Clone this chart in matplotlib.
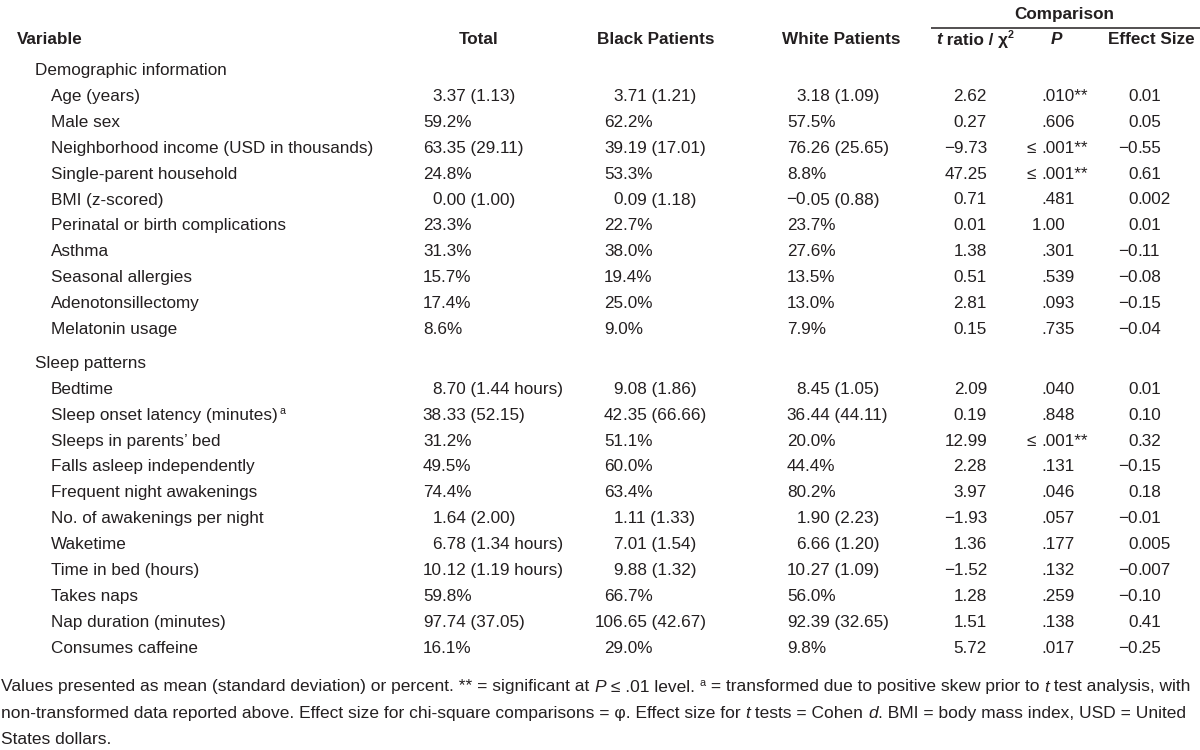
"""Table of patient characteristics (Black vs White patients) drawn as text."""

import matplotlib

matplotlib.use("Agg")
import matplotlib.pyplot as plt
from matplotlib import font_manager

NAMES = {f.name for f in font_manager.fontManager.ttflist}
FAMILY = "Liberation Sans Narrow" if "Liberation Sans Narrow" in NAMES else "Liberation Sans"
FS = 14.7 if FAMILY == "Liberation Sans Narrow" else 12.3
FS_NOTE = FS * 1.02
INK = "#231f20"

# ---- data -------------------------------------------------------------
demo_vars = [
    "Age (years)", "Male sex", "Neighborhood income (USD in thousands)",
    "Single-parent household", "BMI (z-scored)", "Perinatal or birth complications",
    "Asthma", "Seasonal allergies", "Adenotonsillectomy", "Melatonin usage",
]
demo_total = ["3.37 (1.13)", "59.2%", "63.35 (29.11)", "24.8%", "0.00 (1.00)",
              "23.3%", "31.3%", "15.7%", "17.4%", "8.6%"]
demo_black = ["3.71 (1.21)", "62.2%", "39.19 (17.01)", "53.3%", "0.09 (1.18)",
              "22.7%", "38.0%", "19.4%", "25.0%", "9.0%"]
demo_white = ["3.18 (1.09)", "57.5%", "76.26 (25.65)", "8.8%", "\u22120.05 (0.88)",
              "23.7%", "27.6%", "13.5%", "13.0%", "7.9%"]
demo_t = ["2.62", "0.27", "\u22129.73", "47.25", "0.71", "0.01", "1.38", "0.51", "2.81", "0.15"]
demo_p = [".010**", ".606", "\u2264 .001**", "\u2264 .001**", ".481", "1.00", ".301", ".539", ".093", ".735"]
demo_es = ["0.01", "0.05", "\u22120.55", "0.61", "0.002", "0.01", "\u22120.11", "\u22120.08",
           "\u22120.15", "\u22120.04"]

sleep_vars = [
    "Bedtime", "Sleep onset latency (minutes)", "Sleeps in parents\u2019 bed",
    "Falls asleep independently", "Frequent night awakenings", "No. of awakenings per night",
    "Waketime", "Time in bed (hours)", "Takes naps", "Nap duration (minutes)", "Consumes caffeine",
]
sleep_total = ["8.70 (1.44 hours)", "38.33 (52.15)", "31.2%", "49.5%", "74.4%", "1.64 (2.00)",
               "6.78 (1.34 hours)", "10.12 (1.19 hours)", "59.8%", "97.74 (37.05)", "16.1%"]
sleep_black = ["9.08 (1.86)", "42.35 (66.66)", "51.1%", "60.0%", "63.4%", "1.11 (1.33)",
               "7.01 (1.54)", "9.88 (1.32)", "66.7%", "106.65 (42.67)", "29.0%"]
sleep_white = ["8.45 (1.05)", "36.44 (44.11)", "20.0%", "44.4%", "80.2%", "1.90 (2.23)",
               "6.66 (1.20)", "10.27 (1.09)", "56.0%", "92.39 (32.65)", "9.8%"]
sleep_t = ["2.09", "0.19", "12.99", "2.28", "3.97", "\u22121.93", "1.36", "\u22121.52", "1.28", "1.51", "5.72"]
sleep_p = [".040", ".848", "\u2264 .001**", ".131", ".046", ".057", ".177", ".132", ".259", ".138", ".017"]
sleep_es = ["0.01", "0.10", "0.32", "\u22120.15", "0.18", "\u22120.01", "0.005", "\u22120.007",
            "\u22120.10", "0.41", "\u22120.25"]
sleep_sup = {1: "a"}

sections = [
    ("Demographic information", demo_vars, demo_total, demo_black, demo_white, demo_t, demo_p, demo_es, {}),
    ("Sleep patterns", sleep_vars, sleep_total, sleep_black, sleep_white, sleep_t, sleep_p, sleep_es, sleep_sup),
]

footnote = [
    [("Values presented as mean (standard deviation) or percent. ** = significant at ", {}),
     ("P", {"style": "italic"}), (" \u2264 .01 level. ", {}), ("a", {"sup": True}),
     (" = transformed due to positive skew prior to ", {}), ("t", {"style": "italic"}),
     (" test analysis, with", {})],
    [("non-transformed data reported above. Effect size for chi-square comparisons = \u03c6. "
      "Effect size for ", {}), ("t", {"style": "italic"}), (" tests = Cohen ", {}),
     ("d", {"style": "italic"}), (". BMI = body mass index, USD = United", {})],
    [("States dollars.", {})],
]

# ---- layout -----------------------------------------------------------
X_SECTION, X_LABEL = 35, 51
COL_LEFT = {"total": 423, "black": 604, "white": 787}
X_T_RIGHT = 987
X_P_DEC = 1041
X_ES_LEFT = 1128
ROW_H = 25.9

fig = plt.figure(figsize=(12, 7.5), dpi=100)
ax = fig.add_axes([0, 0, 1, 1])
ax.set_xlim(0, 1200)
ax.set_ylim(750, 0)
ax.axis("off")
renderer = fig.canvas.get_renderer()


def width(s, **kw):
    t = ax.text(0, 0, s, fontsize=kw.pop("fontsize", FS), family=FAMILY, **kw)
    w = t.get_window_extent(renderer).width
    t.remove()
    return w


def put(x, y, s, ha="left", **kw):
    kw.setdefault("fontsize", FS)
    return ax.text(x, y, s, ha=ha, va="baseline", family=FAMILY, color=INK, **kw)


def runs(x, y, parts, ha="left", size=FS, **common):
    items = []
    cur = x
    for s, kw in parts:
        kw = dict(kw)
        sup = kw.pop("sup", False)
        opts = dict(common)
        opts["fontsize"] = size
        opts.update(kw)
        dy = 0
        if sup:
            opts["fontsize"] = size * 0.62
            dy = -6
        t = put(cur, y + dy, s, **opts)
        cur += t.get_window_extent(renderer).width
        items.append(t)
    if ha == "center":
        shift = (cur - x) / 2
        for t in items:
            t.set_x(t.get_position()[0] - shift)
    return items


def decimal_cell(x_dec, y, s):
    head, _, tail = s.partition(".")
    gap = 0
    if head.endswith(" "):
        gap = width(" ")
    if head.strip():
        put(x_dec - gap, y, head.strip(), ha="right")
    put(x_dec, y, "." + tail)


def stat_cell(left, y, s):
    # mean (SD) values line up on the decimal point, percentages are flush left
    if "(" in s:
        decimal_cell(left + width("00"), y, s)
    else:
        put(left, y, s)


# header
bold = {"weight": "bold"}
put(17, 44.5, "Variable", **bold)
put(479, 44.5, "Total", ha="center", **bold)
put(656, 44.5, "Black Patients", ha="center", **bold)
put(841, 44.5, "White Patients", ha="center", **bold)
runs(975, 44.5, [("t", {"style": "italic"}), (" ratio / \u03c7", {}), ("2", {"sup": True})],
     ha="center", **bold)
put(1056, 44.5, "P", ha="center", style="italic", **bold)
put(1151, 44.5, "Effect Size", ha="center", **bold)
put(1064, 18.5, "Comparison", ha="center", **bold)
ax.plot([931, 1200], [27.5, 27.5], color=INK, lw=1.1, solid_capstyle="butt")

# body
y = 75
for title, names, tot, blk, wht, tr, pv, es, sups in sections:
    put(X_SECTION, y, title)
    y += ROW_H
    for i, name in enumerate(names):
        if i in sups:
            runs(X_LABEL, y, [(name, {}), (" ", {"fontsize": FS * 0.4}), (sups[i], {"sup": True})])
        else:
            put(X_LABEL, y, name)
        stat_cell(COL_LEFT["total"], y, tot[i])
        stat_cell(COL_LEFT["black"], y, blk[i])
        stat_cell(COL_LEFT["white"], y, wht[i])
        put(X_T_RIGHT, y, tr[i], ha="right")
        decimal_cell(X_P_DEC, y, pv[i])
        decimal_cell(X_ES_LEFT + width("0"), y, es[i])
        y += ROW_H
    y += 8

# footnote
for k, line in enumerate(footnote):
    runs(1, 691.5 + k * 26.3, line, size=FS_NOTE)

fig.savefig("out.png", dpi=100)
